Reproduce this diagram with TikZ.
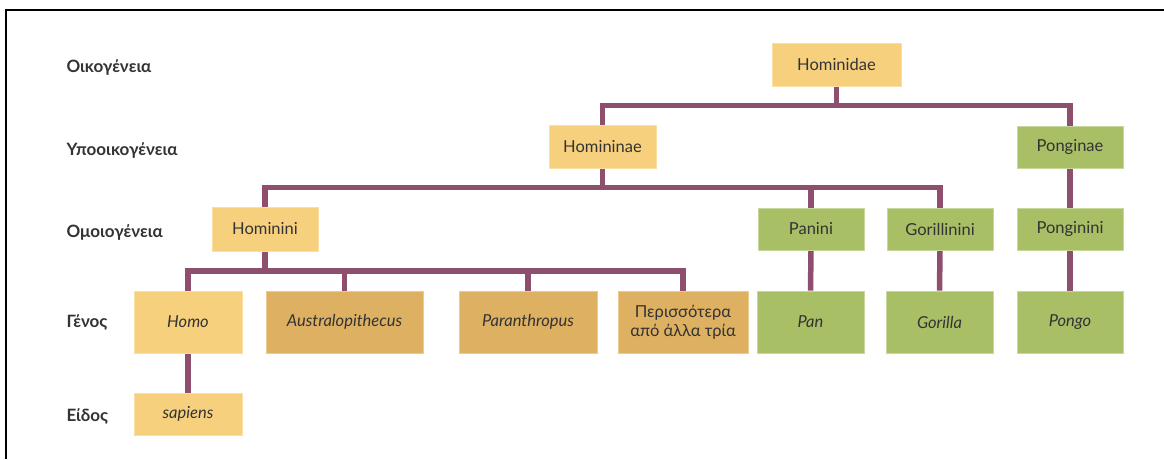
\documentclass[tikz,border=0pt]{standalone}
\usepackage{fontspec}
\setmainfont{Lato}
\usetikzlibrary{backgrounds}
\definecolor{paleyellow}{HTML}{F7D07D}
\definecolor{paleyellowedge}{HTML}{FADFA4}
\definecolor{tan}{HTML}{DDB062}
\definecolor{tanedge}{HTML}{EBCB8E}
\definecolor{leaf}{HTML}{A8BF66}
\definecolor{leafedge}{HTML}{C7D89C}
\definecolor{plum}{HTML}{8E4F6F}
\definecolor{ink}{HTML}{333333}
\tikzset{
  x=1pt, y=-1pt,
  taxon/.style={rectangle, inner sep=0pt, line width=0.8pt, text=ink,
    font=\fontsize{16.5}{19.5}\selectfont, align=center},
  yellowbox/.style={taxon, fill=paleyellow, draw=paleyellowedge},
  tanbox/.style={taxon, fill=tan, draw=tanedge},
  greenbox/.style={taxon, fill=leaf, draw=leafedge},
  rankname/.style={anchor=west, text=ink, font=\bfseries\fontsize{17}{19}\selectfont},
  link/.style={draw=plum, line width=5.5pt, line join=miter, line cap=butt},
}
\begin{document}
\begin{tikzpicture}
\useasboundingbox (0,0) rectangle (1164,459);
% outer frame (left and top edges)
\draw[line width=2pt] (6,459) -- (6,9.7) -- (1164,9.7);

% rank labels
\node[rankname] (r1) at (63,67) {Οικογένεια};
\node[rankname] (r2) at (63,150) {Υποοικογένεια};
\node[rankname] (r3) at (63,232) {Ομοιογένεια};
\node[rankname] (r4) at (63,322) {Γένος};
\node[rankname] (r5) at (63,416) {Είδος};

% taxa
\node[yellowbox, minimum width=129pt, minimum height=43pt] (hominidae) at (836.5,64.5) {Hominidae};
\node[yellowbox, minimum width=107pt, minimum height=43pt] (homininae) at (602.5,146.5) {Homininae};
\node[greenbox, minimum width=106pt, minimum height=42pt] (ponginae) at (1070,147) {Ponginae};
\node[yellowbox, minimum width=106pt, minimum height=44pt] (hominini) at (265,229) {Hominini};
\node[greenbox, minimum width=106pt, minimum height=42pt] (panini) at (811,229) {Panini};
\node[greenbox, minimum width=106pt, minimum height=42pt] (gorillinini) at (940,229) {Gorillinini};
\node[greenbox, minimum width=106pt, minimum height=42pt] (ponginini) at (1070,229) {Ponginini};
\node[yellowbox, minimum width=108pt, minimum height=62pt] (homo) at (188,322) {\itshape Homo};
\node[tanbox, minimum width=157pt, minimum height=62pt] (austr) at (344.5,322) {\itshape Australopithecus};
\node[tanbox, minimum width=138pt, minimum height=62pt] (paran) at (528,322) {\itshape Paranthropus};
\node[tanbox, minimum width=130pt, minimum height=62pt] (more) at (683,322) {Περισσότερα\\από άλλα τρία};
\node[greenbox, minimum width=107pt, minimum height=62pt] (pan) at (810.5,322) {\itshape Pan};
\node[greenbox, minimum width=107pt, minimum height=62pt] (gorilla) at (939.5,322) {\itshape Gorilla};
\node[greenbox, minimum width=106pt, minimum height=62pt] (pongo) at (1070,322) {\itshape Pongo};
\node[yellowbox, minimum width=108pt, minimum height=42pt] (sapiens) at (188,414) {\itshape sapiens};

% heights of the branching bars
\coordinate (bar1) at (0,105.5);
\coordinate (bar2) at (0,187.5);
\coordinate (bar3) at (0,271);

\begin{scope}[on background layer]
  \draw[link] (hominidae.south) -- (hominidae.south |- bar1) -| (homininae.north);
  \draw[link] (hominidae.south) -- (hominidae.south |- bar1) -| (ponginae.north);
  \draw[link] (homininae.south) -- (homininae.south |- bar2) -| (hominini.north);
  \draw[link] (homininae.south) -- (homininae.south |- bar2) -| (panini.north);
  \draw[link] (homininae.south) -- (homininae.south |- bar2) -| (gorillinini.north);
  \draw[link] (ponginae.south) -- (ponginini.north);
  \draw[link] (hominini.south) -- (hominini.south |- bar3) -| (homo.north);
  \draw[link] (hominini.south) -- (hominini.south |- bar3) -| (austr.north);
  \draw[link] (hominini.south) -- (hominini.south |- bar3) -| (paran.north);
  \draw[link] (hominini.south) -- (hominini.south |- bar3) -| (more.north);
  \draw[link] (panini.south) -- (pan.north);
  \draw[link] (gorillinini.south) -- (gorilla.north);
  \draw[link] (ponginini.south) -- (pongo.north);
  \draw[link] (homo.south) -- (sapiens.north);
\end{scope}
\end{tikzpicture}
\end{document}
